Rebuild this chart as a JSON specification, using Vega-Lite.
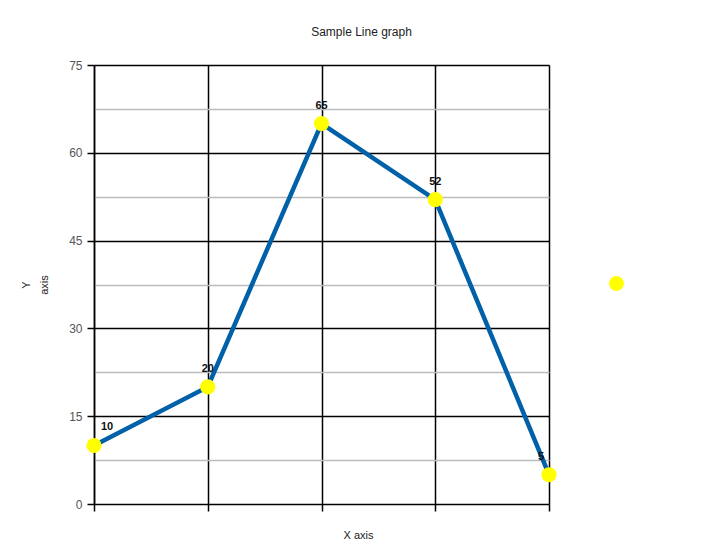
{
  "$schema": "https://vega.github.io/schema/vega-lite/v6.json",
  "autosize": "none",
  "width": 455,
  "height": 439,
  "padding": {"left": 94, "top": 65, "right": 152, "bottom": 45},
  "background": "white",
  "config": {
    "font": "Liberation Sans",
    "view": {"stroke": null}
  },
  "title": {
    "text": "Sample Line graph",
    "fontSize": 12,
    "fontWeight": "normal",
    "color": "#222",
    "anchor": "middle",
    "dx": 40,
    "offset": 20
  },
  "data": {
    "values": [
      {"x": 1, "y": 10, "series": "Series1"},
      {"x": 2, "y": 20, "series": "Series1"},
      {"x": 3, "y": 65, "series": "Series1"},
      {"x": 4, "y": 52, "series": "Series1"},
      {"x": 5, "y": 5, "series": "Series1"}
    ]
  },
  "encoding": {
    "x": {
      "field": "x",
      "type": "quantitative",
      "scale": {"domain": [1, 5], "nice": false, "zero": false},
      "axis": {
        "title": "X axis",
        "titleFontSize": 11,
        "titleFontWeight": "normal",
        "titleColor": "#222",
        "titleX": 264,
        "titlePadding": 18,
        "values": [1, 2, 3, 4, 5],
        "labels": false,
        "grid": true,
        "gridColor": "#000",
        "gridOpacity": 1,
        "gridWidth": 1.5,
        "domain": false,
        "tickColor": "#000",
        "tickWidth": 1.5,
        "tickSize": 7
      }
    },
    "y": {
      "field": "y",
      "type": "quantitative",
      "scale": {"domain": [0, 75], "nice": false},
      "axis": {
        "title": ["Y", "axis"],
        "titleFontSize": 11,
        "titleFontWeight": "normal",
        "titleColor": "#222",
        "titleLineHeight": 18,
        "titlePadding": 19,
        "values": [0, 7.5, 15, 22.5, 30, 37.5, 45, 52.5, 60, 67.5, 75],
        "labelExpr": "datum.value % 15 == 0 ? datum.label : ''",
        "labelFontSize": 12,
        "labelColor": "#555555",
        "labelPadding": 5,
        "grid": true,
        "gridColor": {"condition": {"test": "datum.value % 15 == 0", "value": "#000"}, "value": "#bbbbbb"},
        "gridOpacity": 1,
        "gridWidth": 1.5,
        "domain": true,
        "domainColor": "#000",
        "domainWidth": 1.5,
        "tickColor": "#000",
        "tickOpacity": {"condition": {"test": "datum.value % 15 == 0", "value": 1}, "value": 0},
        "tickWidth": 1.5,
        "tickSize": 7
      }
    }
  },
  "layer": [
    {
      "mark": {"type": "line", "color": "#0060a8", "strokeWidth": 4.5}
    },
    {
      "mark": {"type": "point", "filled": true, "size": 230, "opacity": 1},
      "encoding": {
        "fill": {
          "field": "series",
          "type": "nominal",
          "scale": {"range": ["#ffff00"]},
          "legend": {
            "title": null,
            "labelExpr": "''",
            "symbolType": "circle",
            "symbolSize": 220,
            "symbolStrokeWidth": 0,
            "orient": "none",
            "legendX": 515,
            "legendY": 211
          }
        }
      }
    },
    {
      "mark": {
        "type": "text",
        "fontSize": 11,
        "fontWeight": "bold",
        "color": "#111",
        "dy": -18,
        "dx": {"expr": "datum.x == 1 ? 13 : datum.x == 5 ? -8 : 0"}
      },
      "encoding": {"text": {"field": "y", "type": "quantitative"}}
    }
  ]
}
